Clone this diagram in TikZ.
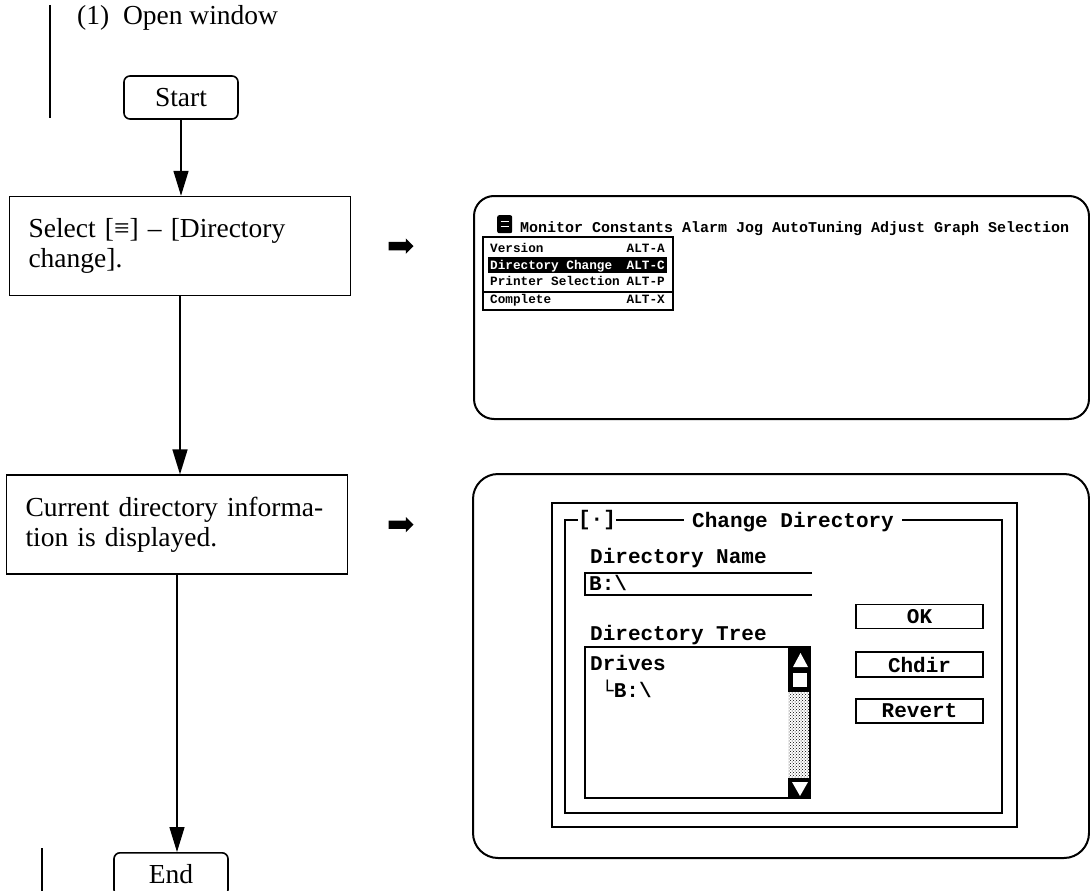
\documentclass[tikz,border=0pt]{standalone}
\usepackage{fontspec}
\setmainfont{Liberation Serif}
\newfontfamily\scrfont{Liberation Mono}
\usepackage{tikz}
\usetikzlibrary{arrows.meta, positioning, shapes.arrows, patterns}

\newcommand\flowfont{\fontsize{27.5}{30}\selectfont}
\newcommand\barfont{\scrfont\bfseries\fontsize{15}{17}\selectfont}
\newcommand\rowfont{\scrfont\bfseries\fontsize{12.7}{14}\selectfont}
\newcommand\dlgfont{\scrfont\bfseries\fontsize{21}{24}\selectfont}

\begin{document}
\begin{tikzpicture}[
    x=1pt, y=-1pt,
    termbox/.style={draw, line width=1.6pt, rounded corners=6pt, minimum width=114pt, minimum height=43pt, inner sep=0pt, font=\flowfont},
    stepbox/.style={draw, line width=1.6pt, minimum width=341pt, minimum height=99pt, text width=303pt, inner xsep=19pt, align=left, font=\flowfont},
    arrow/.style={-{Triangle[length=25pt, width=15pt]}, line width=1.5pt},
    blockarrow/.style={single arrow, fill=black, minimum height=25pt, inner sep=4pt, single arrow head extend=3.5pt},
    panel/.style={draw, line width=2pt, rounded corners=#1, anchor=north west},
    bartext/.style={font=\barfont, inner sep=0pt, anchor=base west},
    rowtext/.style={font=\rowfont, inner sep=0pt, anchor=base west},
    dlgtext/.style={font=\dlgfont, inner sep=0pt, anchor=base west},
    button/.style={draw, line width=1.4pt, minimum width=127pt, minimum height=24pt, inner sep=0pt, font=\dlgfont},
  ]
  \clip (0,0) rectangle (1090,891);

  % Heading
  \node[anchor=base west, font=\flowfont, inner sep=0pt] (heading) at (77,25) {(1)\ \ Open window};
  \draw[line width=1.3pt] (50,5) -- (50,118);
  \draw[line width=1.3pt] (42,848) -- (42,891);

  % Flow
  \node[termbox] (start) at (181,97.5) {Start};
  \node[stepbox, below=76pt of start, xshift=-1pt] (select) {Select [≡] – [Directory\\change].};
  \node[stepbox, below=178pt of select, xshift=-3pt] (current) {Current directory informa-\\tion is displayed.};
  \node[termbox, below=277pt of current, xshift=-6pt] (end) {End};

  \draw[arrow] (start) -- (start |- select.north);
  \draw[arrow] (select) -- (select |- current.north);
  \draw[arrow] (current) -- (current |- end.north);

  \node[blockarrow, right=37pt of select] (hint1) {};
  \node[blockarrow, right=40pt of current] (hint2) {};

  % Screen 1: menu
  \node[panel=20pt, minimum width=615pt, minimum height=223pt] (screen1) at (473,195) {};
  \node[fill=black, rounded corners=2pt, minimum width=15pt, minimum height=18pt, inner sep=0pt, anchor=north west] (sysicon) at (497,215) {};
  \draw[white, line width=1.4pt] ([xshift=-4pt, yshift=3pt]sysicon.center) -- ([xshift=4pt, yshift=3pt]sysicon.center);
  \draw[white, line width=1.4pt] ([xshift=-4pt, yshift=-2pt]sysicon.center) -- ([xshift=4pt, yshift=-2pt]sysicon.center);
  \node[bartext] (menubar) at (520,232) {Monitor Constants Alarm Jog AutoTuning Adjust Graph Selection};

  \draw[line width=1.4pt] (483,237) rectangle (673,310);
  \fill (488,257) rectangle (667,273);
  \node[rowtext] (ver) at (490,252) {Version};
  \node[rowtext, anchor=base east] (verkey) at (665,252) {ALT-A};
  \node[rowtext, text=white] (dirchg) at (490,269) {Directory Change};
  \node[rowtext, text=white, anchor=base east] (dirkey) at (665,269) {ALT-C};
  \node[rowtext] (prn) at (490,285) {Printer Selection};
  \node[rowtext, anchor=base east] (prnkey) at (665,285) {ALT-P};
  \draw[line width=1.2pt] (483,292) -- (673,292);
  \node[rowtext] (cmp) at (490,303) {Complete};
  \node[rowtext, anchor=base east] (cmpkey) at (665,303) {ALT-X};

  % Screen 2: dialog
  \node[panel=25pt, minimum width=616pt, minimum height=384pt] (screen2) at (472,473) {};
  \draw[line width=1.3pt] (552,503) rectangle (1017,827);
  \draw[line width=1.6pt] (565,520) rectangle (1002,813);
  \node[font=\dlgfont, fill=white, inner xsep=0pt, inner ysep=1pt] (closebox) at (597,520) {[·]};
  \node[font=\dlgfont, fill=white, inner xsep=8pt, inner ysep=1pt, anchor=base west] (dlgtitle) at (684,527) {Change Directory};

  \node[dlgtext] (namelabel) at (590,563) {Directory Name};
  \draw[line width=1.3pt] (812,573) -- (585,573) -- (585,595) -- (812,595);
  \node[dlgtext] (namefield) at (589,590) {B:\textbackslash};

  \node[dlgtext] (treelabel) at (590,640) {Directory Tree};
  \draw[line width=1.3pt] (585,647) rectangle (810,798);
  \node[dlgtext] (drives) at (590,670) {Drives};
  \node[dlgtext] (drive) at (601,697) {└B:\textbackslash};

  % scroll bar
  \fill (788,647) rectangle (810,692);
  \fill[white] (793,667) -- (808,667) -- (800.5,653) -- cycle;
  \fill[white] (793,673) rectangle (807,687);
  \fill[pattern=crosshatch dots] (788,692) rectangle (810,778);
  \fill (788,778) rectangle (810,798);
  \fill[white] (792,782) -- (808,782) -- (800,796) -- cycle;

  \node[button] (okbtn) at (919.5,616.5) {OK};
  \node[button, minimum height=25pt] (chdirbtn) at (919.5,664.5) {Chdir};
  \node[button] (revertbtn) at (919.5,711) {Revert};

\end{tikzpicture}
\end{document}
